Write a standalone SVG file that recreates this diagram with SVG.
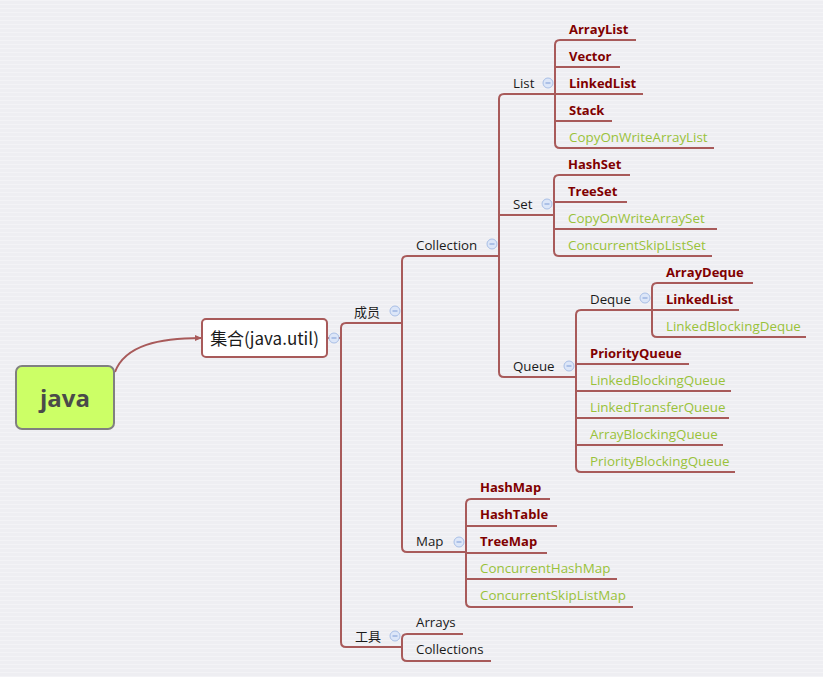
<svg xmlns="http://www.w3.org/2000/svg" width="823" height="677" viewBox="0 0 823 677">
<defs>
<pattern id="bg" width="4" height="4" patternUnits="userSpaceOnUse">
<rect width="4" height="4" fill="#eeeef2"/>
<rect width="4" height="1" fill="#f3f3f6"/>
</pattern>
<marker id="arr" markerWidth="8" markerHeight="8" refX="6" refY="4" orient="auto" markerUnits="userSpaceOnUse">
<path d="M0,1 L7,4 L0,7 Z" fill="#a85a5a"/>
</marker>
<g id="col">
<circle r="5" fill="#dce6f8" stroke="#a9bfe6" stroke-width="1"/>
<line x1="-2.5" y1="0" x2="2.5" y2="0" stroke="#7d9bd6" stroke-width="1"/>
</g>
</defs>
<style>
.c{fill:none;stroke:#a85a5a;stroke-width:2;}
.t{font-family:"Open Sans","Noto Sans",sans-serif;font-size:13.3px;fill:#1a1a1a;}
.b{font-family:"Open Sans","Noto Sans",sans-serif;font-size:13px;font-weight:bold;fill:#800000;}
.g{font-family:"Open Sans","Noto Sans",sans-serif;font-size:13.4px;fill:#99c23a;}
.z{font-family:"Noto Sans CJK SC","Noto Sans",sans-serif;font-size:13px;fill:#1a1a1a;}
</style>
<rect width="823" height="677" fill="url(#bg)"/>

<g id="connectors">
<path class="c" d="M115,372 C125,345 160,338 201,338" marker-end="url(#arr)"/>
<path class="c" d="M327,338 H341"/>
<path class="c" d="M402,323 H346 Q341,323 341,328 V642 Q341,647 346,647 H402"/>
<path class="c" d="M499,256 H407 Q402,256 402,261 V547 Q402,552 407,552 H466"/>
<path class="c" d="M463,634 H407 Q402,634 402,639 V656 Q402,661 407,661 H491"/>
<path class="c" d="M555,94 H504 Q499,94 499,99 V372 Q499,377 504,377 H576"/>
<path class="c" d="M499,215 H554"/>
<path class="c" d="M636,40 H560 Q555,40 555,45 V143 Q555,148 560,148 H714"/>
<path class="c" d="M555,67 H620 M555,94 H643 M555,121 H612"/>
<path class="c" d="M630,175 H559 Q554,175 554,180 V251 Q554,256 559,256 H712"/>
<path class="c" d="M554,202 H627 M554,229 H717"/>
<path class="c" d="M652,310 H581 Q576,310 576,315 V467 Q576,472 581,472 H735"/>
<path class="c" d="M576,364 H689 M576,391 H731 M576,418 H729 M576,445 H723"/>
<path class="c" d="M753,283 H657 Q652,283 652,288 V332 Q652,337 657,337 H806"/>
<path class="c" d="M652,310 H739"/>
<path class="c" d="M550,499 H471 Q466,499 466,504 V602 Q466,607 471,607 H633"/>
<path class="c" d="M466,526 H557 M466,553 H547 M466,579 H617"/>
</g>

<g id="java">
<rect x="16" y="366" width="98" height="63" rx="6" fill="#ccff66" stroke="#808080" stroke-width="2"/>
<text x="65" y="407" text-anchor="middle" font-family="'Open Sans','Noto Sans',sans-serif" font-size="24" font-weight="bold" fill="#4a4a4a">java</text>
</g>
<g id="jihe">
<rect x="202" y="319" width="125" height="38" rx="4" fill="#ffffff" stroke="#a85a5a" stroke-width="2"/>
<text x="264.5" y="345" text-anchor="middle" font-family="'Noto Sans CJK SC','Open Sans',sans-serif" font-size="17" fill="#1a1a1a">集合(java.util)</text>
<use href="#col" x="334" y="338"/>
</g>

<g id="chengyuan"><text class="z" x="354" y="317">成员</text><use href="#col" x="395" y="311"/></g>
<g id="gongju"><text class="z" x="355" y="641">工具</text><use href="#col" x="395" y="636"/></g>
<g id="collection"><text class="t" x="416" y="250">Collection</text><use href="#col" x="492" y="244"/></g>
<g id="map"><text class="t" x="416" y="546">Map</text><use href="#col" x="459" y="542"/></g>
<g id="arrays"><text class="t" x="416" y="627">Arrays</text></g>
<g id="collections"><text class="t" x="416" y="654">Collections</text></g>
<g id="list"><text class="t" x="513" y="88">List</text><use href="#col" x="548" y="83"/></g>
<g id="set"><text class="t" x="513" y="209">Set</text><use href="#col" x="547" y="204"/></g>
<g id="queue"><text class="t" x="513" y="371">Queue</text><use href="#col" x="569" y="366"/></g>
<g id="deque"><text class="t" x="590" y="304">Deque</text><use href="#col" x="645" y="298"/></g>

<g id="arraylist"><text class="b" x="569" y="34">ArrayList</text></g>
<g id="vector"><text class="b" x="569" y="61">Vector</text></g>
<g id="linkedlist1"><text class="b" x="569" y="88">LinkedList</text></g>
<g id="stack"><text class="b" x="569" y="115">Stack</text></g>
<g id="cowal"><text class="g" x="569" y="142">CopyOnWriteArrayList</text></g>

<g id="hashset"><text class="b" x="568" y="169">HashSet</text></g>
<g id="treeset"><text class="b" x="568" y="196">TreeSet</text></g>
<g id="cowas"><text class="g" x="568" y="223">CopyOnWriteArraySet</text></g>
<g id="csls"><text class="g" x="568" y="250">ConcurrentSkipListSet</text></g>

<g id="arraydeque"><text class="b" x="666" y="277">ArrayDeque</text></g>
<g id="linkedlist2"><text class="b" x="666" y="304">LinkedList</text></g>
<g id="lbd"><text class="g" x="666" y="331">LinkedBlockingDeque</text></g>

<g id="pq"><text class="b" x="590" y="358">PriorityQueue</text></g>
<g id="lbq"><text class="g" x="590" y="385">LinkedBlockingQueue</text></g>
<g id="ltq"><text class="g" x="590" y="412">LinkedTransferQueue</text></g>
<g id="abq"><text class="g" x="590" y="439">ArrayBlockingQueue</text></g>
<g id="pbq"><text class="g" x="590" y="466">PriorityBlockingQueue</text></g>

<g id="hashmap"><text class="b" x="480" y="492">HashMap</text></g>
<g id="hashtable"><text class="b" x="480" y="519">HashTable</text></g>
<g id="treemap"><text class="b" x="480" y="546">TreeMap</text></g>
<g id="chm"><text class="g" x="480" y="573">ConcurrentHashMap</text></g>
<g id="cslm"><text class="g" x="480" y="600">ConcurrentSkipListMap</text></g>
</svg>
